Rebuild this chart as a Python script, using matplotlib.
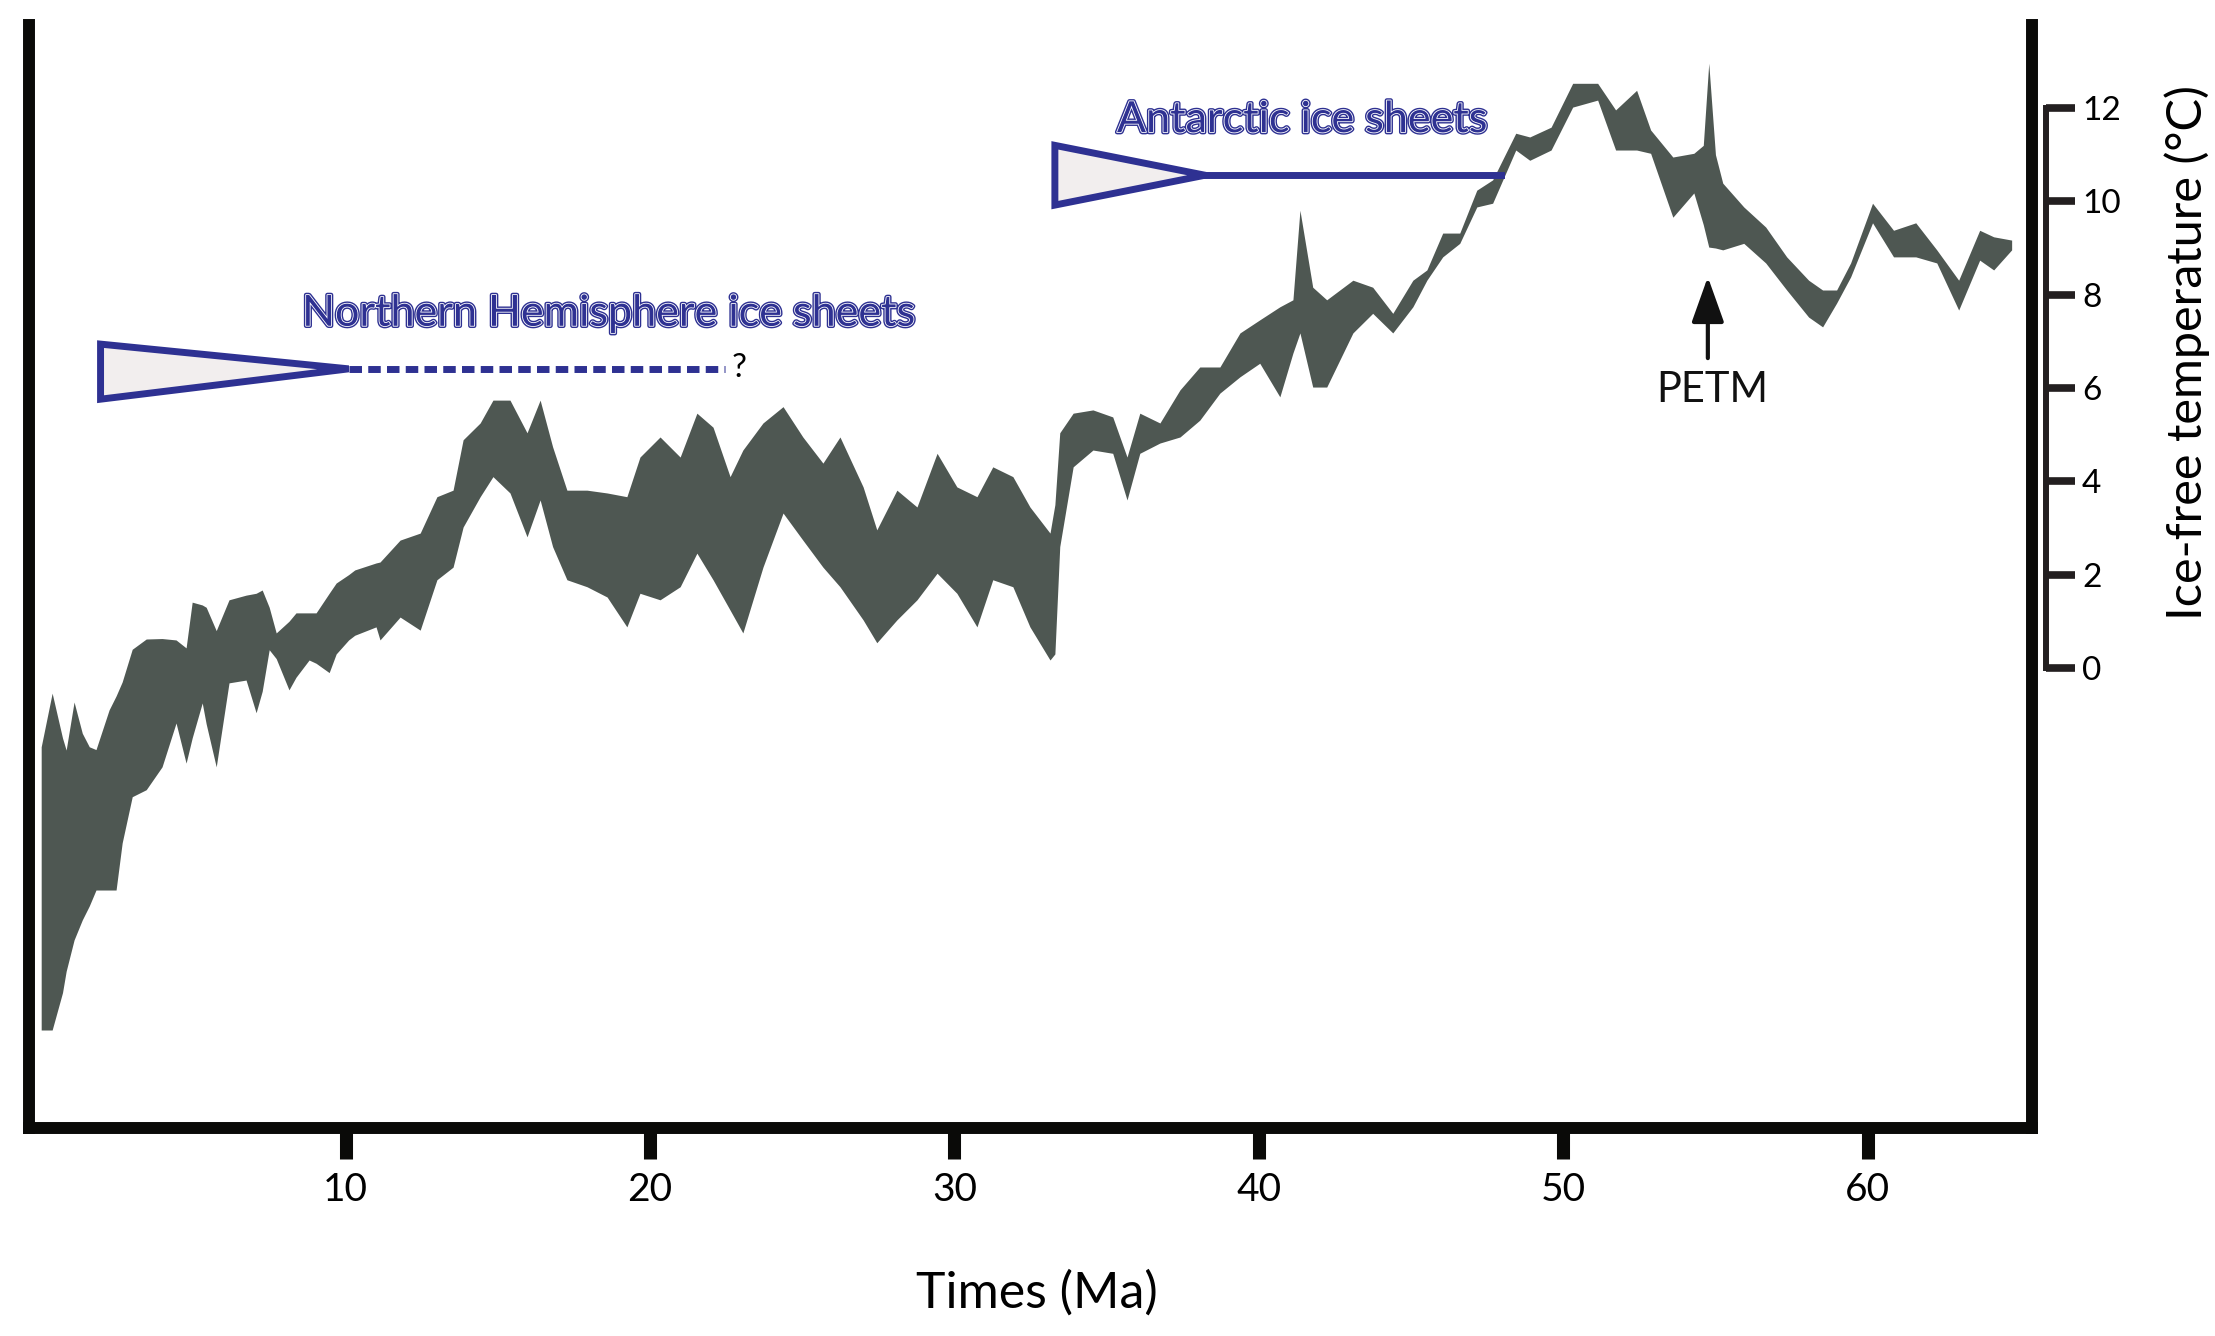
import matplotlib
matplotlib.use('Agg')
import matplotlib.pyplot as plt
import matplotlib.patheffects as pe
from matplotlib.patches import Polygon

plt.rcParams['font.family'] = ['Lato', 'DejaVu Sans']

# envelope of the temperature band (Ma / deg C)
age_ma = [0.0, 0.36, 0.7, 0.82, 1.08, 1.35, 1.58, 1.8, 2.23, 2.46, 2.66, 2.99,
          3.45, 3.97, 4.43, 4.76, 4.96, 5.29, 5.42, 5.75, 6.17, 6.73, 7.06,
          7.26, 7.49, 7.72, 8.14, 8.37, 8.8, 9.03, 9.46, 9.69, 10.1, 10.3,
          11.0, 11.13, 11.79, 12.45, 13.0, 13.53, 13.86, 14.42, 14.84, 15.4,
          15.96, 16.39, 16.8, 17.27, 17.93, 18.59, 19.24, 19.67, 20.33, 20.99,
          21.54, 22.07, 22.63, 23.05, 23.71, 24.37, 25.02, 25.68, 26.24, 27.0,
          27.45, 28.11, 28.77, 29.43, 30.08, 30.74, 31.26, 31.92, 32.48, 33.14,
          33.3, 33.46, 33.9, 34.55, 35.2, 35.67, 36.09, 36.75, 37.41, 38.06,
          38.72, 39.38, 40.03, 40.69, 41.12, 41.35, 41.77, 42.23, 43.09, 43.74,
          44.4, 45.06, 45.52, 46.04, 46.6, 47.16, 47.68, 48.44, 48.9, 49.6,
          50.31, 51.13, 51.72, 52.41, 52.87, 53.6, 54.29, 54.6, 54.78, 55.0,
          55.24, 55.93, 56.65, 57.34, 58.06, 58.52, 58.98, 59.44, 60.16, 60.85,
          61.58, 62.27, 62.99, 63.68, 64.14, 64.73]
temp_upper = [-1.69, -0.54, -1.5, -1.76, -0.73, -1.4, -1.69, -1.75, -0.9, -0.6,
              -0.3, 0.4, 0.62, 0.63, 0.6, 0.43, 1.41, 1.35, 1.3, 0.8, 1.46,
              1.56, 1.6, 1.67, 1.3, 0.75, 1.0, 1.18, 1.18, 1.18, 1.6, 1.82, 2.0,
              2.1, 2.25, 2.27, 2.74, 2.89, 3.67, 3.81, 4.89, 5.25, 5.74, 5.74,
              5.04, 5.74, 4.74, 3.81, 3.81, 3.75, 3.67, 4.52, 4.95, 4.52, 5.46,
              5.16, 4.1, 4.67, 5.25, 5.6, 4.95, 4.39, 4.95, 3.88, 2.96, 3.81,
              3.45, 4.6, 3.88, 3.67, 4.31, 4.1, 3.45, 2.89, 3.5, 5.04, 5.46,
              5.53, 5.38, 4.52, 5.46, 5.25, 5.96, 6.45, 6.45, 7.18, 7.46, 7.74,
              7.89, 9.81, 8.16, 7.89, 8.31, 8.16, 7.6, 8.31, 8.53, 9.32, 9.32,
              10.24, 10.46, 11.46, 11.38, 11.59, 12.53, 12.53, 11.96, 12.38,
              11.53, 10.95, 11.03, 11.2, 12.96, 11.0, 10.39, 9.88, 9.45, 8.81,
              8.31, 8.1, 8.1, 8.68, 9.96, 9.38, 9.54, 8.96, 8.31, 9.38, 9.24,
              9.17]
temp_lower = [-7.76, -7.76, -6.96, -6.5, -5.83, -5.4, -5.1, -4.76, -4.76, -4.76,
              -3.75, -2.76, -2.61, -2.12, -1.18, -2.04, -1.5, -0.75, -1.2, -2.12,
              -0.32, -0.26, -0.96, -0.5, 0.39, 0.2, -0.47, -0.2, 0.17, 0.1, -0.1,
              0.3, 0.6, 0.7, 0.88, 0.6, 1.09, 0.81, 1.89, 2.16, 3.02, 3.67, 4.1,
              3.75, 2.81, 3.6, 2.6, 1.89, 1.74, 1.52, 0.88, 1.6, 1.46, 1.74, 2.46,
              1.89, 1.24, 0.75, 2.16, 3.32, 2.74, 2.16, 1.74, 1.03, 0.54, 1.03,
              1.46, 2.03, 1.6, 0.88, 1.89, 1.74, 0.88, 0.17, 0.3, 2.6, 4.31, 4.67,
              4.6, 3.6, 4.6, 4.82, 4.95, 5.31, 5.89, 6.24, 6.53, 5.81, 6.75, 7.18,
              6.02, 6.02, 7.18, 7.6, 7.18, 7.74, 8.31, 8.81, 9.1, 9.88, 9.96,
              11.1, 10.88, 11.1, 12.02, 12.17, 11.1, 11.1, 11.03, 9.66, 10.18,
              9.5, 9.02, 9.0, 8.96, 9.1, 8.68, 8.1, 7.52, 7.31, 7.82, 8.38, 9.54,
              8.81, 8.81, 8.68, 7.67, 8.74, 8.53, 8.96]

age_ticks = [10, 20, 30, 40, 50, 60]
scale_ticks = [0, 2, 4, 6, 8, 10, 12]

band_color = '#4e5752'
ice_blue = '#2e3192'
wedge_fill = '#f2eeee'

fig = plt.figure(figsize=(22.15, 13.36), dpi=100)
ax = fig.add_axes([0.0131, 0.1557, 0.9043, 0.8256])

ax.fill_between(age_ma, temp_lower, temp_upper, color=band_color, lw=0)

ax.set_xlim(-0.4, 65.4)
ax.set_ylim(-9.86, 13.78)

for side in ['left', 'bottom', 'right']:
    ax.spines[side].set_linewidth(8.6)
    ax.spines[side].set_color('#0a0a08')
ax.spines['top'].set_visible(False)

ax.set_xticks(age_ticks)
ax.tick_params(axis='x', direction='out', length=22, width=9.4, color='#0a0a08',
               labelsize=28, pad=10)
ax.set_yticks([])

ax.set_xlabel('Times (Ma)', fontsize=36)
ax.xaxis.set_label_coords(0.503, -0.1496)
ax.xaxis.label.set_va('center')

# secondary "ice-free temperature" bracket on the right
ax2 = ax.twinx()
ax2.set_ylim(ax.get_ylim())
for side in ['left', 'top', 'bottom']:
    ax2.spines[side].set_visible(False)
ax2.spines['right'].set_position(('outward', 10))
ax2.spines['right'].set_bounds(0, 12)
ax2.spines['right'].set_linewidth(4.3)
ax2.spines['right'].set_color('#231f20')
ax2.set_yticks(scale_ticks)
ax2.tick_params(axis='y', direction='out', length=21, width=5.5, color='#231f20',
                labelsize=24, pad=5)
ax2.set_ylabel('Ice-free temperature (°C)', fontsize=35, rotation=90)
ax2.yaxis.set_label_coords(1.0774, 0.7027)
ax2.yaxis.label.set_va('center')
ax2.yaxis.label.set_ha('center')

# ice sheet wedges
outline = [pe.Stroke(linewidth=3.2, foreground=ice_blue),
           pe.Stroke(linewidth=1.2, foreground='white'),
           pe.Normal()]

nh = Polygon([(1.95, 6.94), (10.1, 6.41), (1.95, 5.76)], closed=True,
             facecolor=wedge_fill, edgecolor=ice_blue, lw=5, joinstyle='miter')
ax.add_patch(nh)
ax.plot([10.1, 22.45], [6.41, 6.41], color=ice_blue, lw=5,
        linestyle=(0, (1.8, 0.9)))
ax.text(22.92, 6.43, '?', fontsize=24, ha='center', va='center', color='black')
ax.text(18.6, 7.59, 'Northern Hemisphere ice sheets', fontsize=31, ha='center',
        va='center', color=ice_blue, path_effects=outline)

ant = Polygon([(33.3, 11.2), (38.23, 10.56), (33.3, 9.92)], closed=True,
              facecolor=wedge_fill, edgecolor=ice_blue, lw=5, joinstyle='miter')
ax.add_patch(ant)
ax.plot([38.23, 47.95], [10.56, 10.56], color=ice_blue, lw=5)
ax.text(41.4, 11.74, 'Antarctic ice sheets', fontsize=31, ha='center',
        va='center', color=ice_blue, path_effects=outline)

# PETM marker
ax.annotate('', xy=(54.75, 8.38), xytext=(54.75, 6.64),
            arrowprops=dict(arrowstyle='-|>,head_length=0.7,head_width=0.25',
                            mutation_scale=40, lw=3, color='#111111',
                            shrinkA=0, shrinkB=0))
ax.text(54.9, 5.96, 'PETM', fontsize=30, ha='center', va='center', color='#111111')

fig.savefig('out.png', dpi=100)
